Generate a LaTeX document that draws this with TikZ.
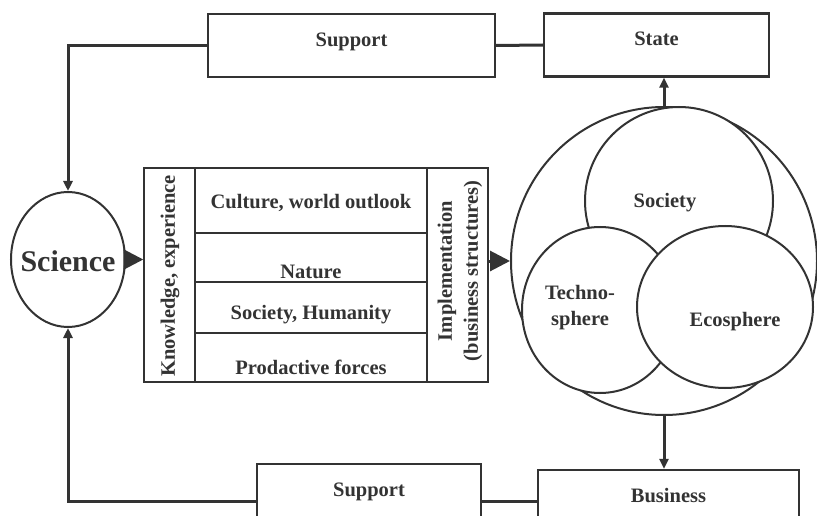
\documentclass[tikz,border=0pt]{standalone}
\usepackage{fontspec}
\setmainfont{Liberation Serif}
\usepackage{tikz}
\usetikzlibrary{shapes,arrows.meta,positioning}

\definecolor{ink}{HTML}{333333}

\tikzset{
  box/.style={draw=ink,line width=2.2pt,minimum width=#1,minimum height=63pt,
    text height=13pt,text depth=11pt,inner sep=0pt},
  lbl/.style={text=ink,font=\fontsize{20.5}{26}\selectfont\bfseries,align=center},
  conn/.style={draw=ink,line width=3pt},
  sm/.style={-{Triangle[length=10pt,width=9pt]}},
  big/.style={-{Triangle[length=20pt,width=20pt]}},
  sph/.style={draw=ink,line width=2pt,ellipse,fill=white,inner sep=0pt},
}

\begin{document}
\begin{tikzpicture}[x=1pt,y=-1pt]
  \useasboundingbox (0,0) rectangle (817,516);
  \clip (0,0) rectangle (817,516);

  \node[box=287pt,lbl] (sup1) at (351.5,45.5) {Support};
  \node[box=225pt,lbl] (state) at (656.5,45) {State};
  \node[box=224pt,lbl] (sup2) at (369,495.5) {Support};
  \node[box=261pt,lbl] (bus) at (668.5,501.5) {Business};
  \node[sph,minimum width=114pt,minimum height=135pt] (sci) at (68,259.5) {};
  \node[lbl,font=\fontsize{30}{30}\selectfont\bfseries] (scit) at (68,261) {Science};

  \node[draw=ink,line width=1.4pt,minimum width=344pt,minimum height=214pt,inner sep=0pt] (tbl) at (316,275) {};
  \draw[ink,line width=1.2pt] (195,168) -- (195,382) (427,168) -- (427,382);
  \foreach \y in {233,282,333}
    \draw[ink,line width=1.2pt] (195,\y) -- (427,\y);
  \node[lbl] (cult) at (311,203) {Culture, world outlook};
  \node[lbl] (nat) at (311,272) {Nature};
  \node[lbl] (hum) at (311,315) {Society, Humanity};
  \node[lbl] (prod) at (311,367) {Prodactive forces};
  \node[lbl,rotate=90] (know) at (170,276) {Knowledge, experience};
  \node[lbl,rotate=90] (impl) at (460,271) {Implementation\\(business structures)};

  \node[sph,minimum width=306pt,minimum height=308pt] (world) at (664,261) {};
  \node[sph,minimum size=188pt] (soc) at (679,201) {};
  \node[sph,minimum width=156pt,minimum height=166pt] (tech) at (600,310) {};
  \node[sph,minimum width=176pt,minimum height=162pt] (eco) at (725,307) {};
  \node[lbl] (soct) at (665,203) {Society};
  \node[lbl] (techt) at (580,308) {Techno-\\sphere};
  \node[lbl] (ecot) at (735,322) {Ecosphere};

  \draw[conn,sm] (sup1.west) -| (sci.north);
  \draw[conn] (sup1.east) -- (state.west);
  \draw[conn,sm] (sup2.west |- bus.west) -| (sci.south);
  \draw[conn] (sup2.east |- bus.west) -- (bus.west);
  \draw[conn,big] (sci.east) -- (sci.east -| tbl.west);
  \draw[conn,big] (world.west -| tbl.east) -- (world.west);
  \draw[conn,sm] (world.north) -- (world.north |- state.south);
  \draw[conn,sm] (world.south) -- (world.south |- bus.north);
\end{tikzpicture}
\end{document}
